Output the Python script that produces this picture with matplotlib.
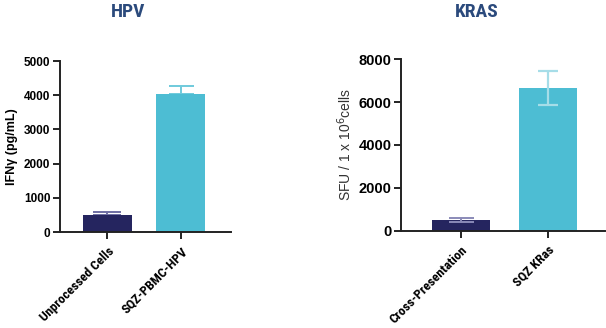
import matplotlib.pyplot as plt

hpv_labels = ["Unprocessed Cells", "SQZ-PBMC-HPV"]
hpv_values = [505, 4030]
hpv_err = [95, 250]

kras_labels = ["Cross-Presentation", "SQZ KRas"]
kras_values = [500, 6660]
kras_err = [80, 810]

navy = "#25255f"
cyan = "#4dbdd3"
title_blue = "#2b4a7c"
ink = "#222222"
condensed = ["Roboto Condensed", "DejaVu Sans"]

plt.rcParams["font.family"] = ["Liberation Sans", "DejaVu Sans"]

fig = plt.figure(figsize=(6.06, 3.28), dpi=100)


def style_axes(ax):
    for side in ["top", "right"]:
        ax.spines[side].set_visible(False)
    for side in ["left", "bottom"]:
        ax.spines[side].set_linewidth(1.4)
        ax.spines[side].set_color(ink)
    ax.tick_params(axis="both", width=1.4, length=5, color=ink, pad=2)
    ax.tick_params(axis="x", pad=4)


# HPV panel
ax1 = fig.add_axes([0.099, 0.292, 0.282, 0.522])
ax1.bar([0, 1], hpv_values, width=0.667, color=[navy, cyan], zorder=2)
ax1.errorbar([0], [hpv_values[0]], yerr=[[0], [hpv_err[0]]], fmt="none",
             ecolor="#6e6ea3", capsize=10, elinewidth=1.4, capthick=1.4, zorder=1)
ax1.errorbar([1], [hpv_values[1]], yerr=[[0], [hpv_err[1]]], fmt="none",
             ecolor="#6fcadc", capsize=9, elinewidth=1.4, capthick=1.4, zorder=1)
ax1.set_xlim(-0.646, 1.68)
ax1.set_ylim(0, 5000)
ax1.set_yticks([0, 1000, 2000, 3000, 4000, 5000])
ax1.set_xticks([0, 1])
ax1.set_xticklabels(hpv_labels, rotation=45, ha="right", rotation_mode="anchor",
                    fontfamily=condensed, fontweight="bold", fontsize=9.5)
for t in ax1.get_yticklabels():
    t.set_fontweight("bold")
    t.set_fontsize(8.5)
ax1.set_ylabel("IFNγ (pg/mL)", fontweight="bold", fontsize=9, labelpad=4)
style_axes(ax1)

# KRAS panel
ax2 = fig.add_axes([0.6617, 0.297, 0.336, 0.522])
ax2.bar([0, 1], kras_values, width=0.667, color=[navy, cyan], zorder=2)
ax2.errorbar([0], [kras_values[0]], yerr=[[kras_err[0]], [kras_err[0]]], fmt="none",
             ecolor="#8a8ab8", capsize=9, elinewidth=1.4, capthick=1.4, zorder=3)
ax2.errorbar([1], [kras_values[1]], yerr=[[kras_err[1]], [kras_err[1]]], fmt="none",
             ecolor="#a6dde8", capsize=7, elinewidth=1.6, capthick=1.6, zorder=3)
ax2.set_xlim(-0.69, 1.655)
ax2.set_ylim(0, 8000)
ax2.set_yticks([0, 2000, 4000, 6000, 8000])
ax2.set_xticks([0, 1])
ax2.set_xticklabels(kras_labels, rotation=45, ha="right", rotation_mode="anchor",
                    fontfamily=condensed, fontweight="bold", fontsize=9.5)
for t in ax2.get_yticklabels():
    t.set_fontweight("bold")
    t.set_fontsize(10.5)
ax2.set_ylabel("SFU / 1 x 10$^6$cells", fontsize=10, labelpad=3, color="#333333")
style_axes(ax2)

fig.text(0.212, 0.962, "HPV", ha="center", va="center", fontsize=14,
         fontweight="bold", color=title_blue, fontfamily=condensed)
fig.text(0.787, 0.962, "KRAS", ha="center", va="center", fontsize=14,
         fontweight="bold", color=title_blue, fontfamily=condensed)

fig.savefig("out.png", dpi=100)
